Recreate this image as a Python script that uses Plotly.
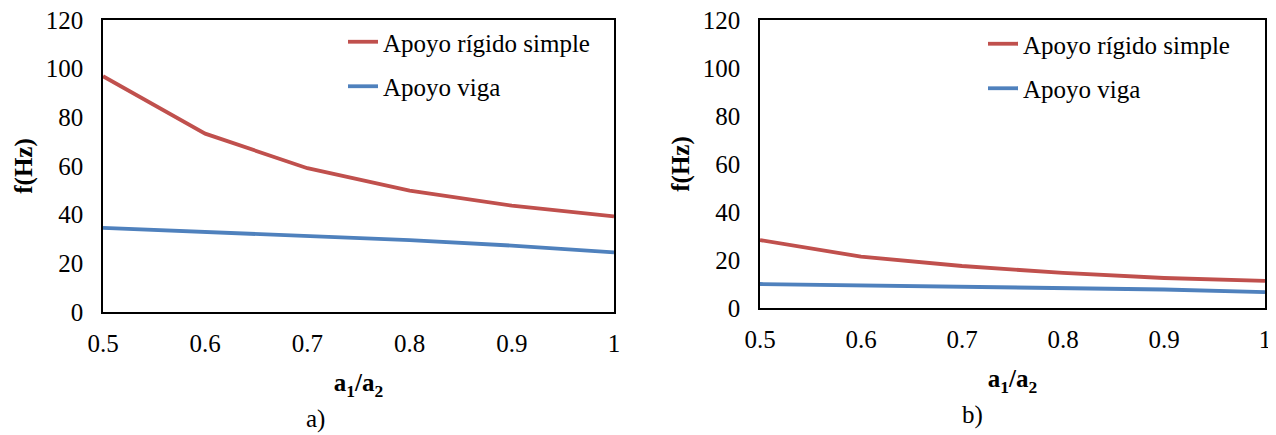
import plotly.graph_objects as go

# Data
ratio = [0.5, 0.6, 0.7, 0.8, 0.9, 1.0]
tick_labels_x = ["0.5", "0.6", "0.7", "0.8", "0.9", "1"]
tick_vals_y = [0, 20, 40, 60, 80, 100, 120]

a_rigido = [96.9, 73.3, 59.1, 49.9, 43.7, 39.3]
a_viga = [34.6, 32.9, 31.2, 29.5, 27.3, 24.5]

b_rigido = [28.3, 21.4, 17.5, 14.6, 12.5, 11.3]
b_viga = [10.0, 9.5, 8.9, 8.4, 7.7, 6.6]

series_names = ["Apoyo rígido simple", "Apoyo viga"]
panel_labels = ["a)", "b)"]

RED = "#C0504D"
BLUE = "#4F81BD"
FONT = "Liberation Serif, Times New Roman, serif"

fig = go.Figure()

fig.add_trace(go.Scatter(x=ratio, y=a_rigido, mode="lines", name=series_names[0],
                         line=dict(color=RED, width=3.8), xaxis="x", yaxis="y",
                         legend="legend", legendgroup="a1"))
fig.add_trace(go.Scatter(x=ratio, y=a_viga, mode="lines", name=series_names[1],
                         line=dict(color=BLUE, width=3.8), xaxis="x", yaxis="y",
                         legend="legend", legendgroup="a2"))
fig.add_trace(go.Scatter(x=ratio, y=b_rigido, mode="lines", name=series_names[0],
                         line=dict(color=RED, width=3.8), xaxis="x2", yaxis="y2",
                         legend="legend2", legendgroup="b1"))
fig.add_trace(go.Scatter(x=ratio, y=b_viga, mode="lines", name=series_names[1],
                         line=dict(color=BLUE, width=3.8), xaxis="x2", yaxis="y2",
                         legend="legend2", legendgroup="b2"))

# page body has an 8px margin; figure coordinates are page coordinates - 8
OFF = 8
W, H = 1276 - OFF, 435 - OFF

def px_x(p):
    return (p - OFF) / W

def px_y(p):
    return 1 - (p - OFF) / H

xcommon = dict(range=[0.5, 1.0], tickvals=ratio, ticktext=tick_labels_x,
               showline=True, linecolor="black", linewidth=1.5, mirror=True,
               showgrid=False, zeroline=False, ticks="", ticklabelstandoff=8,
               automargin=False, ticklabeloverflow="allow",
               tickfont=dict(family=FONT, size=25, color="black"),
               title=dict(text="<b>a<sub>1</sub>/a<sub>2</sub></b>",
                          font=dict(family=FONT, size=25, color="black"), standoff=18))
ycommon = dict(range=[0, 120], tickvals=tick_vals_y,
               showline=True, linecolor="black", linewidth=1.5, mirror=True,
               showgrid=False, zeroline=False, ticks="", ticklabelstandoff=13,
               automargin=False, ticklabeloverflow="allow",
               tickfont=dict(family=FONT, size=25, color="black"),
               title=dict(text="<b>f(Hz)</b>",
                          font=dict(family=FONT, size=25, color="black"), standoff=6))

fig.update_layout(
    width=W, height=H,
    margin=dict(l=0, r=0, t=0, b=0, autoexpand=False),
    paper_bgcolor="white", plot_bgcolor="white",
    showlegend=True,
    xaxis=dict(domain=[px_x(103), px_x(614)], anchor="y", **xcommon),
    yaxis=dict(domain=[px_y(312), px_y(20)], anchor="x", **ycommon),
    xaxis2=dict(domain=[px_x(760), px_x(1265)], anchor="y2", **xcommon),
    yaxis2=dict(domain=[px_y(308), px_y(20)], anchor="x2", **ycommon),
    legend=dict(x=px_x(343), y=px_y(19), xanchor="left", yanchor="top",
                font=dict(family=FONT, size=25, color="black"),
                bgcolor="rgba(0,0,0,0)", tracegroupgap=9, traceorder="grouped"),
    legend2=dict(x=px_x(983), y=px_y(21), xanchor="left", yanchor="top",
                 font=dict(family=FONT, size=25, color="black"),
                 bgcolor="rgba(0,0,0,0)", tracegroupgap=9, traceorder="grouped"),
    annotations=[
        dict(text=panel_labels[0], x=px_x(315), y=px_y(419), xref="paper", yref="paper",
             xanchor="center", yanchor="middle",
             showarrow=False, font=dict(family=FONT, size=25, color="black")),
        dict(text=panel_labels[1], x=px_x(972), y=px_y(415), xref="paper", yref="paper",
             xanchor="center", yanchor="middle",
             showarrow=False, font=dict(family=FONT, size=25, color="black")),
    ],
)

fig.write_html("out.html")
